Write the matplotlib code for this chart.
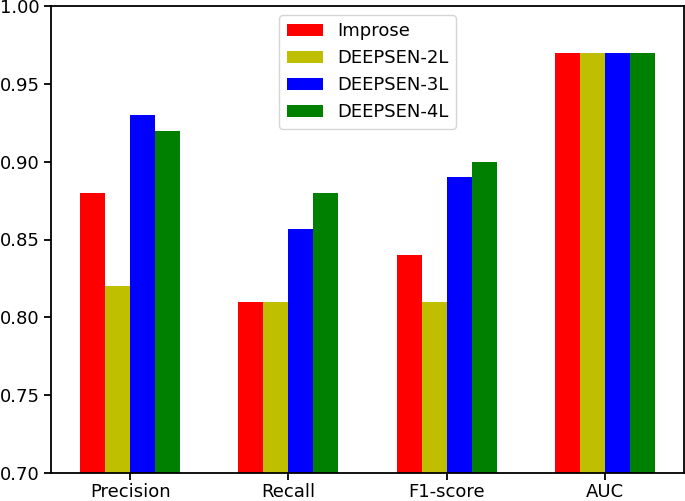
import matplotlib
matplotlib.use("Agg")
import matplotlib.pyplot as plt
import numpy as np

metrics = ["Precision", "Recall", "F1-score", "AUC"]
models = ["Improse", "DEEPSEN-2L", "DEEPSEN-3L", "DEEPSEN-4L"]
colors = ["r", "y", "b", "g"]

improse = [0.88, 0.81, 0.84, 0.97]
deepsen2 = [0.82, 0.81, 0.81, 0.97]
deepsen3 = [0.93, 0.857, 0.89, 0.97]
deepsen4 = [0.92, 0.88, 0.90, 0.97]
series = [improse, deepsen2, deepsen3, deepsen4]

plt.rcParams["font.size"] = 13
fig = plt.figure(figsize=(6.85, 5.01), dpi=100)
ax = fig.add_axes([51/685, 28/501, 633/685, 467/501])

x = np.arange(len(metrics))
w = 0.158
for i in range(len(series)):
    ax.bar(x + (i - 1.5) * w, series[i], w, color=colors[i], label=models[i])

ax.set_xticks(x)
ax.set_xticklabels(metrics)
ax.set_xlim(-0.5, 3.5)
ax.set_ylim(0.70, 1.00)
ax.set_yticks(np.arange(0.70, 1.001, 0.05))
ax.yaxis.set_major_formatter(matplotlib.ticker.FormatStrFormatter("%.2f"))
for s in ax.spines.values():
    s.set_linewidth(1.3)
ax.tick_params(width=1.3, length=5, pad=3)
ax.tick_params(axis="x", pad=2)
ax.legend(loc="upper center", fontsize=13)

fig.savefig("out.png", dpi=100)
